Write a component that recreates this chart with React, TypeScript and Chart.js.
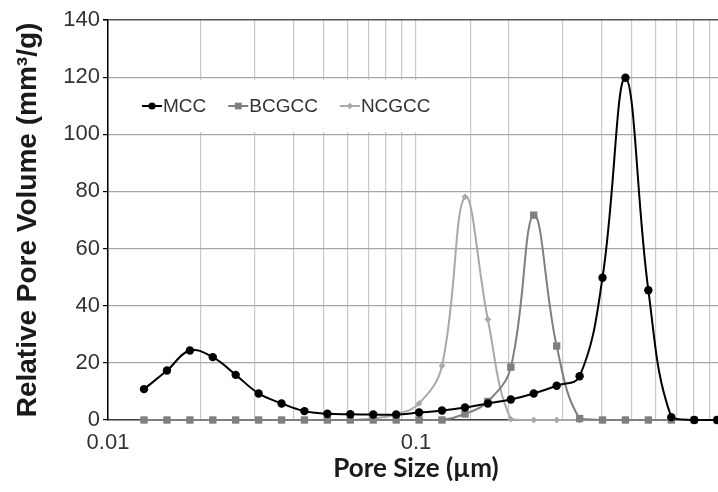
import React, { useEffect, useRef } from 'react';
import { Chart, registerables } from 'chart.js';

Chart.register(...registerables);

const poreSize = [
  0.01309, 0.01554, 0.01845, 0.02189, 0.02598, 0.03084, 0.03661, 0.04345, 0.05158, 0.06122,
  0.07267, 0.08626, 0.1024, 0.1215, 0.1443, 0.1712, 0.2033, 0.2413, 0.2864, 0.34,
  0.4035, 0.479, 0.5685, 0.6749, 0.801, 0.9508,
];

// Relative pore volume (mm³/g)
const mcc = [
  10.8, 17.3, 24.3, 22.0, 15.8, 9.3, 5.8, 3.1, 2.2, 2.0,
  1.9, 1.9, 2.6, 3.3, 4.4, 5.8, 7.2, 9.3, 12.0, 15.3,
  49.8, 119.8, 45.4, 1.0, 0, 0,
];
const bcgcc = [
  0, 0, 0, 0, 0, 0, 0, 0, 0, 0,
  0, 0, 0, 0, 2.1, 6.5, 18.5, 71.7, 25.9, 0.5,
  0, 0, 0, 0, 0, 0,
];
const ncgcc = [
  0, 0, 0, 0, 0, 0, 0, 0, 0, 0,
  0.5, 2.0, 5.8, 19.0, 78.1, 35.2, 0.3, 0, 0, 0,
  0, 0, 0, 0, 0, 0,
];

const seriesLabels = ['MCC', 'BCGCC', 'NCGCC'];
const seriesColors = ['#000000', '#7f7f7f', '#a9a9a9'];
const yTicks = [0, 20, 40, 60, 80, 100, 120, 140];

const FONT = "'Liberation Sans', Arial, sans-serif";

function drawMarker(ctx: CanvasRenderingContext2D, style: string, x: number, y: number, r: number) {
  ctx.beginPath();
  if (style === 'circle') {
    ctx.arc(x, y, r, 0, Math.PI * 2);
  } else if (style === 'rect') {
    const s = r * Math.SQRT1_2;
    ctx.rect(x - s, y - s, 2 * s, 2 * s);
  } else {
    ctx.moveTo(x, y - r);
    ctx.lineTo(x + r, y);
    ctx.lineTo(x, y + r);
    ctx.lineTo(x - r, y);
    ctx.closePath();
  }
  ctx.fill();
}

const insideLegend = {
  id: 'insideLegend',
  beforeDatasetsDraw(chart: any) {
    const ctx: CanvasRenderingContext2D = chart.ctx;
    const area = chart.chartArea;
    ctx.save();
    ctx.fillStyle = '#ffffff';
    ctx.fillRect(area.left + 10, 80, 326, 52);
    ctx.font = `19px ${FONT}`;
    ctx.textBaseline = 'middle';
    ctx.textAlign = 'left';
    let x = area.left + 34;
    const y = 106;
    chart.data.datasets.forEach((ds: any) => {
      ctx.strokeStyle = ds.borderColor;
      ctx.fillStyle = ds.borderColor;
      ctx.lineWidth = 2;
      ctx.beginPath();
      ctx.moveTo(x, y);
      ctx.lineTo(x + 20, y);
      ctx.stroke();
      drawMarker(ctx, ds.pointStyle, x + 10, y, ds.pointStyle === 'circle' ? 3.6 : ds.pointStyle === 'rect' ? 4.8 : 3.2);
      ctx.fillStyle = '#333333';
      ctx.fillText(ds.label, x + 21, y + 1);
      const w = ctx.measureText(ds.label).width;
      x += 21 + w + 22;
    });
    ctx.restore();
  },
};

export default function App() {
  const ref = useRef<HTMLCanvasElement | null>(null);

  useEffect(() => {
    if (!ref.current) return;
    const makePts = (vals: number[]) => poreSize.map((x, i) => ({ x, y: vals[i] }));
    const styles = ['circle', 'rect', 'rectRot'];
    const radii = [4.2, 5.2, 3.4];
    const chart = new Chart(ref.current, {
      type: 'line',
      data: {
        datasets: [mcc, bcgcc, ncgcc].map((vals, i) => ({
          label: seriesLabels[i],
          data: makePts(vals),
          borderColor: seriesColors[i],
          backgroundColor: seriesColors[i],
          pointBackgroundColor: seriesColors[i],
          pointBorderColor: seriesColors[i],
          pointBorderWidth: 0,
          pointStyle: styles[i],
          pointRadius: radii[i],
          borderWidth: 2,
          tension: 0.4,
          clip: false,
        })) as any,
      },
      options: {
        responsive: false,
        animation: false,
        events: [],
        layout: { padding: { top: 20, right: 16, left: 0, bottom: 0 } },
        plugins: {
          legend: { display: false },
          tooltip: { enabled: false },
        },
        scales: {
          x: {
            type: 'logarithmic',
            min: 0.01,
            max: 1,
            afterFit: (s: any) => {
              s.height = 72;
            },
            border: { display: true, color: '#404040', width: 1.5 },
            grid: {
              color: '#c8c8c8',
              lineWidth: 1.2,
              drawTicks: false,
            },
            ticks: {
              autoSkip: false,
              maxRotation: 0,
              padding: 10,
              color: '#333333',
              font: { family: FONT, size: 22 },
              callback: (value: any) => {
                const v = Number(value);
                const l = Math.log10(v);
                if (Math.abs(l - Math.round(l)) < 1e-6) {
                  return String(Number(v.toPrecision(3)));
                }
                return '';
              },
            },
            title: {
              display: true,
              text: 'Pore Size (µm)',
              color: '#1a1a1a',
              font: { family: "Lato, 'Open Sans', sans-serif", size: 26, weight: 'bold' },
              padding: { top: 0, bottom: 8 },
            },
          },
          y: {
            min: 0,
            max: 140,
            afterFit: (s: any) => {
              s.width = 108;
            },
            afterBuildTicks: (s: any) => {
              s.ticks = yTicks.map((v) => ({ value: v }));
            },
            border: { display: true, color: '#000000', width: 1.5 },
            grid: {
              color: (c: any) => (c.tick && c.tick.value === 140 ? '#555555' : '#a6a6a6'),
              lineWidth: (c: any) => (c.tick && c.tick.value === 140 ? 1.6 : 1.2),
              tickLength: 5,
              tickColor: '#000000',
            },
            ticks: {
              padding: 3,
              color: '#333333',
              font: { family: FONT, size: 22 },
            },
            title: {
              display: true,
              text: 'Relative Pore Volume (mm³/g)',
              color: '#1a1a1a',
              font: { family: FONT, size: 28, weight: 'bold' },
              padding: { top: 11, bottom: 0 },
            },
          },
        },
      },
      plugins: [insideLegend],
    });
    return () => chart.destroy();
  }, []);

  return (
    <div
      style={{
        position: 'fixed',
        left: 0,
        top: 0,
        width: 718,
        height: 492,
        overflow: 'hidden',
        background: '#ffffff',
      }}
    >
      <canvas ref={ref} width={740} height={492} style={{ width: 740, height: 492, display: 'block' }} />
    </div>
  );
}
